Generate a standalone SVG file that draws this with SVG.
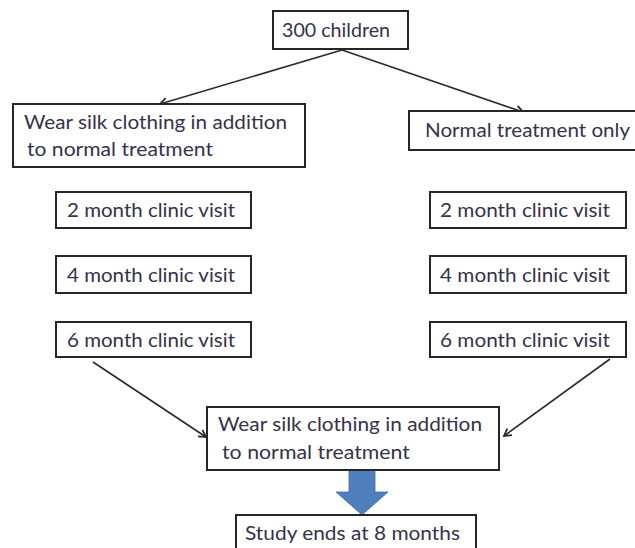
<svg xmlns="http://www.w3.org/2000/svg" width="635" height="548" viewBox="0 0 635 548">
<style>
.box{fill:#fff;stroke:#262626;stroke-width:2}
.t{font-family:Lato,"Open Sans","Liberation Sans",sans-serif;font-size:19.5px;fill:#35324a}
.c{fill:none;stroke:#2a2a2a;stroke-width:1.6}
</style>
<defs>
<marker id="ah" markerWidth="10" markerHeight="10" refX="8" refY="5" orient="auto" markerUnits="userSpaceOnUse">
<path d="M1,1 L8,5 L1,9" fill="none" stroke="#2a2a2a" stroke-width="1.8"/>
</marker>
</defs>
<rect width="635" height="548" fill="#fff"/>
<g id="connectors">
<line class="c" x1="342" y1="50" x2="160" y2="104" marker-end="url(#ah)"/>
<line class="c" x1="342" y1="50" x2="523" y2="112" marker-end="url(#ah)"/>
<line class="c" x1="93" y1="362" x2="206" y2="437" marker-end="url(#ah)"/>
<line class="c" x1="610" y1="359" x2="504" y2="436" marker-end="url(#ah)"/>
<polygon id="block-arrow" points="349,470 375,470 375,492 388,492 362,515 336,492 349,492" fill="#4F7FBC" stroke="#44709F" stroke-width="0.8"/>
</g>
<g id="n-root">
<rect class="box" x="273" y="11" width="135" height="38"/>
<text class="t" x="282" y="37" textLength="108" lengthAdjust="spacingAndGlyphs">300 children</text>
</g>
<g id="n-silk">
<rect class="box" x="13" y="104" width="292" height="63"/>
<text class="t" x="24" y="129" textLength="263" lengthAdjust="spacingAndGlyphs">Wear silk clothing in addition</text>
<text class="t" x="27" y="156" textLength="186" lengthAdjust="spacingAndGlyphs">to normal treatment</text>
</g>
<g id="n-normal">
<rect class="box" x="409" y="111" width="240" height="39"/>
<text class="t" x="425" y="137" textLength="205" lengthAdjust="spacingAndGlyphs">Normal treatment only</text>
</g>
<g id="n-l2">
<rect class="box" x="56" y="192" width="195" height="36"/>
<text class="t" x="67" y="217" textLength="168" lengthAdjust="spacingAndGlyphs">2 month clinic visit</text>
</g>
<g id="n-l4">
<rect class="box" x="56" y="256" width="195" height="37"/>
<text class="t" x="67" y="282" textLength="168" lengthAdjust="spacingAndGlyphs">4 month clinic visit</text>
</g>
<g id="n-l6">
<rect class="box" x="56" y="322" width="195" height="35"/>
<text class="t" x="67" y="347" textLength="168" lengthAdjust="spacingAndGlyphs">6 month clinic visit</text>
</g>
<g id="n-r2">
<rect class="box" x="430" y="192" width="196" height="36"/>
<text class="t" x="440" y="217" textLength="170" lengthAdjust="spacingAndGlyphs">2 month clinic visit</text>
</g>
<g id="n-r4">
<rect class="box" x="430" y="256" width="196" height="37"/>
<text class="t" x="440" y="282" textLength="170" lengthAdjust="spacingAndGlyphs">4 month clinic visit</text>
</g>
<g id="n-r6">
<rect class="box" x="430" y="322" width="196" height="35"/>
<text class="t" x="440" y="347" textLength="170" lengthAdjust="spacingAndGlyphs">6 month clinic visit</text>
</g>
<g id="n-cross">
<rect class="box" x="207" y="407" width="292" height="63"/>
<text class="t" x="218" y="431" textLength="264" lengthAdjust="spacingAndGlyphs">Wear silk clothing in addition</text>
<text class="t" x="222" y="459" textLength="188" lengthAdjust="spacingAndGlyphs">to normal treatment</text>
</g>
<g id="n-end">
<rect class="box" x="236" y="515" width="240" height="45"/>
<text class="t" x="245" y="540" textLength="215" lengthAdjust="spacingAndGlyphs">Study ends at 8 months</text>
</g>
</svg>
